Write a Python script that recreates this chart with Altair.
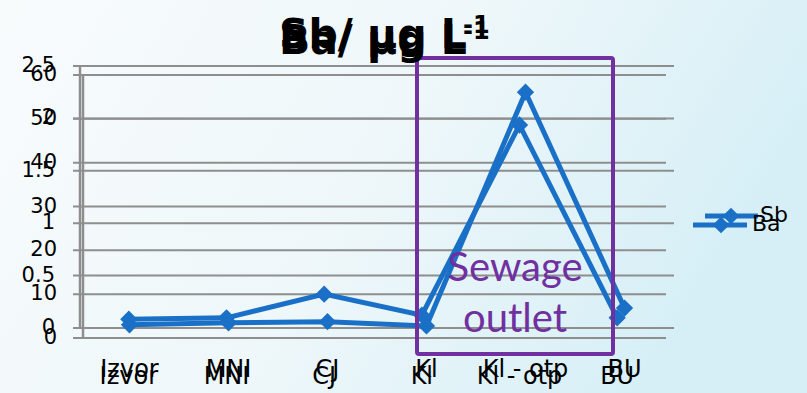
import altair as alt
import pandas as pd

# ---------------- data ----------------
sites = ["Izvor", "MNI", "CJ", "Kl", "Kl - otp", "BU"]
sb_values = [0.03, 0.05, 0.06, 0.02, 2.25, 0.19]
ba_values = [4.3, 4.6, 10.0, 5.2, 48.6, 4.6]
sb_ticks = [0, 0.5, 1, 1.5, 2, 2.5]
sb_tick_labels = ["0", "0.5", "1", "1.5", "2", "2.5"]
ba_ticks = [0, 10, 20, 30, 40, 50, 60]
ba_tick_labels = ["0", "10", "20", "30", "40", "50", "60"]
annotation_lines = ["Sewage", "outlet"]

# ---------------- style ----------------
W, H = 807, 393
BLUE = "#1a70c6"
GRID = "#8e8e8e"
PURPLE = "#7030a0"
FONT = "DejaVu Sans"

df = pd.DataFrame({"site": sites, "sb": sb_values, "ba": ba_values,
                   "idx": list(range(len(sites)))})
sb_tdf = pd.DataFrame({"v": sb_ticks, "lab": sb_tick_labels})
ba_tdf = pd.DataFrame({"v": ba_ticks, "lab": ba_tick_labels})
one = pd.DataFrame({"a": [0]})

sb_x = alt.Scale(type="point", domain=sites, range=[80, 674], padding=0.5)
ba_x = alt.Scale(type="point", domain=sites, range=[80, 666], padding=0.5)
sb_y = alt.Scale(domain=[0, 2.5], range=[328, 66], nice=False, zero=True)
ba_y = alt.Scale(domain=[0, 60], range=[338, 75], nice=False, zero=True)

bg = alt.Chart(one).mark_rect(
    fill=alt.Gradient(gradient="linear", x1=0, x2=1, y1=0, y2=0.3,
                      stops=[alt.GradientStop(color="#f8fbfc", offset=0),
                             alt.GradientStop(color="#eef7fa", offset=0.55),
                             alt.GradientStop(color="#d6eff6", offset=1)])
).encode(x=alt.value(0), x2=alt.value(W), y=alt.value(0), y2=alt.value(H))


def grid(tdf, yscale, x_end):
    return alt.Chart(tdf).mark_rule(color=GRID, strokeWidth=2).encode(
        y=alt.Y("v:Q", scale=yscale, axis=None),
        x=alt.value(73), x2=alt.value(x_end))


def vaxis(yscale, top, xpos):
    return alt.Chart(one).mark_rule(color=GRID, strokeWidth=2.5).encode(
        y=alt.Y(datum=0, scale=yscale, axis=None), y2=alt.Y2(datum=top),
        x=alt.value(xpos))


def ylabels(tdf, yscale, xpos):
    return alt.Chart(tdf).mark_text(align="right", baseline="middle", font=FONT,
                                    fontSize=21, color="#000000").encode(
        y=alt.Y("v:Q", scale=yscale, axis=None), x=alt.value(xpos), text="lab:N")


def xlabels(xscale, ypos):
    return alt.Chart(df).mark_text(align="center", baseline="middle", font=FONT,
                                   fontSize=24, color="#000000").encode(
        x=alt.X("site:N", scale=xscale, axis=None), y=alt.value(ypos), text="site:N")


def series(field, xscale, yscale):
    enc = dict(x=alt.X("site:N", scale=xscale, axis=None),
               y=alt.Y(f"{field}:Q", scale=yscale, axis=None),
               order=alt.Order("idx:Q"))
    line = alt.Chart(df).mark_line(color=BLUE, strokeWidth=5).encode(**enc)
    pts = alt.Chart(df).mark_point(shape="diamond", filled=True, size=300,
                                   color=BLUE, opacity=1).encode(**enc)
    return [line, pts]


def legend_entry(label, x0, x1, xm, y, tx):
    ln = alt.Chart(one).mark_rule(color=BLUE, strokeWidth=5).encode(
        x=alt.value(x0), x2=alt.value(x1), y=alt.value(y))
    pt = alt.Chart(one).mark_point(shape="diamond", filled=True, size=280,
                                   color=BLUE, opacity=1).encode(
        x=alt.value(xm), y=alt.value(y))
    tt = alt.Chart(one).mark_text(align="left", baseline="middle", font=FONT,
                                  fontSize=22, color="#000000", text=label).encode(
        x=alt.value(tx), y=alt.value(y - 1))
    return [ln, pt, tt]


def title(name, base):
    main = alt.Chart(one).mark_text(align="right", baseline="alphabetic",
                                    font=FONT, fontWeight="bold", fontSize=41,
                                    color="#000000", text=f"{name}/ µg L").encode(
        x=alt.value(467), y=alt.value(base))
    sup = alt.Chart(one).mark_text(align="left", baseline="alphabetic",
                                   font=FONT, fontWeight="bold", fontSize=24,
                                   color="#000000", text="-1").encode(
        x=alt.value(463), y=alt.value(base - 15))
    return [main, sup]


box = alt.Chart(one).mark_rect(fillOpacity=0, stroke=PURPLE, strokeWidth=4,
                               cornerRadius=2).encode(
    x=alt.value(417), x2=alt.value(613), y=alt.value(58), y2=alt.value(354))

ann = [alt.Chart(one).mark_text(align="center", baseline="alphabetic", font="Lato",
                                fontSize=40, color=PURPLE, text=t).encode(
    x=alt.value(515), y=alt.value(yy))
    for t, yy in zip(annotation_lines, [281, 332])]

layers = [bg,
          grid(sb_tdf, sb_y, 674), grid(ba_tdf, ba_y, 666),
          vaxis(sb_y, 2.5, 80), vaxis(ba_y, 60, 83),
          ylabels(sb_tdf, sb_y, 55), ylabels(ba_tdf, ba_y, 57),
          xlabels(sb_x, 370), xlabels(ba_x, 377)]
layers += series("sb", sb_x, sb_y)
layers += series("ba", ba_x, ba_y)
layers += [box] + ann
layers += legend_entry("Sb", 705, 758, 731, 216, 760)
layers += legend_entry("Ba", 693, 747, 721, 225, 752)
layers += title("Sb", 48) + title("Ba", 54)

chart = alt.layer(*layers).resolve_scale(x="independent", y="independent").properties(
    width=W, height=H, autosize=alt.AutoSizeParams(type="none"), padding=0,
    background="#ffffff"
).configure_view(strokeWidth=0)

chart.save("out.html", embed_options={"renderer": "svg", "actions": False})
